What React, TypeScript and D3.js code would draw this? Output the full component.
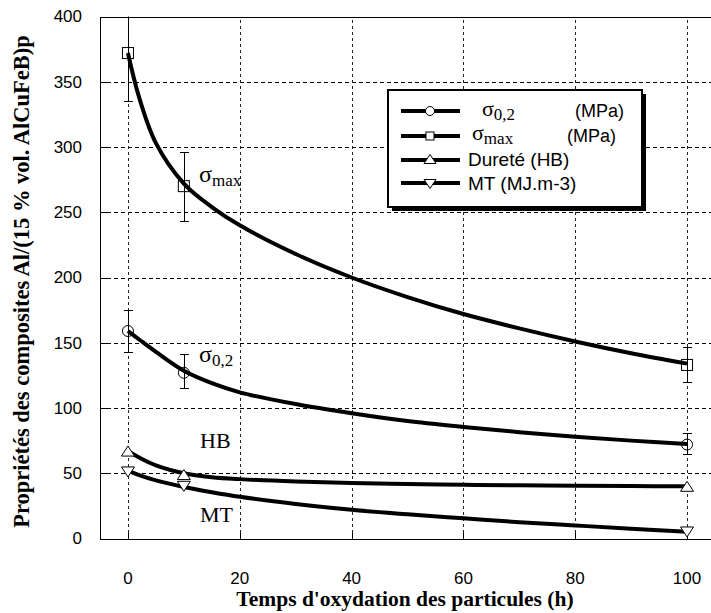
import React from "react";
import * as d3 from "d3";

// Measured points
const times = [0, 10, 100];
const sigmaMax = [372, 270, 133];
const sigmaMaxLo = [335, 243, 120];
const sigmaMaxHi = [409, 296, 147];
const sigma02 = [159, 127, 72];
const sigma02Lo = [143, 115, 65];
const sigma02Hi = [175, 141, 81];
const hardness = [67, 49, 40];
const mt = [51, 40, 5];

// Fitted curves
const fitX = [0, 2, 5, 10, 15, 20, 30, 40, 50, 60, 70, 80, 90, 100];
const fitSigmaMax = [372, 338, 303, 272, 254, 240, 218, 200, 185, 172, 161, 151, 142, 134];
const fitSigma02 = [159, 152.5, 143, 128.5, 119, 112, 103, 96, 90, 85.5, 81.5, 78, 75, 72.5];
const fitHardness = [67, 62, 56, 50, 47, 45.5, 43.7, 42.6, 41.8, 41.2, 40.8, 40.5, 40.2, 40];
const fitMT = [52, 48.5, 44.5, 39.5, 35.5, 32, 26.5, 22, 18.5, 15.5, 12.5, 10, 7.5, 5.2];

const xTicks = [0, 20, 40, 60, 80, 100];
const yTicks = [0, 50, 100, 150, 200, 250, 300, 350, 400];

const W = 711;
const H = 613;
const x = d3.scaleLinear().domain([-5, 105]).range([100, 715]);
const y = d3.scaleLinear().domain([0, 400]).range([538.5, 16.5]);
const px = (v: number) => Math.round(v) + 0.5;

const line = d3
  .line<[number, number]>()
  .x((d) => x(d[0]))
  .y((d) => y(d[1]))
  .curve(d3.curveCatmullRom.alpha(0.5));

const tri = (cx: number, cy: number, w: number, h: number, up: boolean) =>
  up
    ? `M${cx},${cy - h / 2}L${cx + w / 2},${cy + h / 2}L${cx - w / 2},${cy + h / 2}Z`
    : `M${cx},${cy + h / 2}L${cx + w / 2},${cy - h / 2}L${cx - w / 2},${cy - h / 2}Z`;

const serif = "'Liberation Serif', 'Times New Roman', serif";
const sans = "'Liberation Sans', Arial, sans-serif";

function ErrBar({ xv, lo, hi }: { xv: number; lo: number; hi: number }) {
  const cx = px(x(xv));
  return (
    <g stroke="#000" strokeWidth={1} shapeRendering="crispEdges">
      <line x1={cx} x2={cx} y1={y(lo)} y2={y(hi)} />
      <line x1={cx - 4.5} x2={cx + 4.5} y1={px(y(lo))} y2={px(y(lo))} />
      <line x1={cx - 4.5} x2={cx + 4.5} y1={px(y(hi))} y2={px(y(hi))} />
    </g>
  );
}

export default function App() {
  const zip = (a: number[], b: number[]) => a.map((v, i) => [v, b[i]] as [number, number]);
  const legendRows = [
    { kind: "circle", y: 111 },
    { kind: "square", y: 136 },
    { kind: "up", y: 160 },
    { kind: "down", y: 183 },
  ];
  return (
    <svg width={W} height={H} style={{ position: "absolute", left: 0, top: 0, background: "#fff" }}>
      <rect x={0} y={0} width={W} height={H} fill="#fff" />
      <defs>
        <clipPath id="plot">
          <rect x={100} y={y(400)} width={W - 100} height={y(0) - y(400)} />
        </clipPath>
      </defs>
      {/* grid */}
      <g shapeRendering="crispEdges">
        {yTicks
          .filter((t) => t > 0 && t < 400)
          .map((t) => (
            <line key={"gy" + t} x1={x(-5)} x2={W} y1={px(y(t))} y2={px(y(t))} stroke="#000" strokeWidth={1} strokeDasharray="4,3" />
          ))}
        {xTicks.map((t) => (
          <line key={"gx" + t} x1={px(x(t))} x2={px(x(t))} y1={y(0)} y2={y(400)} stroke="#222" strokeWidth={1} strokeDasharray="3,3" />
        ))}
        {/* axes */}
        <line x1={100.5} x2={100.5} y1={px(y(400))} y2={px(y(0))} stroke="#000" strokeWidth={1} />
        <line x1={100} x2={W} y1={px(y(0))} y2={px(y(0))} stroke="#000" strokeWidth={1} />
        <line x1={100} x2={W} y1={px(y(400))} y2={px(y(400))} stroke="#000" strokeWidth={1} />
        {yTicks.map((t) => (
          <line key={"tky" + t} x1={100} x2={108} y1={px(y(t))} y2={px(y(t))} stroke="#000" strokeWidth={1} />
        ))}
        {xTicks.map((t) => (
          <line key={"tkx" + t} x1={px(x(t))} x2={px(x(t))} y1={y(0)} y2={y(0) - 6} stroke="#000" strokeWidth={1} />
        ))}
      </g>
      {yTicks.map((t) => (
        <text key={"ty" + t} x={82} y={y(t)} dy="0.35em" textAnchor="end" fontFamily={sans} fontSize={17}>
          {t}
        </text>
      ))}
      {xTicks.map((t) => (
        <text key={"tx" + t} x={x(t)} y={578} dy="0.35em" textAnchor="middle" fontFamily={sans} fontSize={17}>
          {t}
        </text>
      ))}
      {/* axis titles */}
      <text x={405} y={606} textAnchor="middle" fontFamily={serif} fontWeight="bold" fontSize={21.5}>
        Temps d'oxydation des particules (h)
      </text>
      <text
        transform={`translate(21,${(y(0) + y(400)) / 2 + 4}) rotate(-90)`}
        dy="0.35em"
        textAnchor="middle"
        fontFamily={serif}
        fontWeight="bold"
        fontSize={22.5}
      >
        Propriétés des composites Al/(15 % vol. AlCuFeB)p
      </text>
      <g clipPath="url(#plot)">
        {/* curves */}
        {[fitSigmaMax, fitSigma02, fitHardness, fitMT].map((s, i) => (
          <path key={"c" + i} d={line(zip(fitX, s)) || ""} fill="none" stroke="#000" strokeWidth={4} />
        ))}
        {/* error bars */}
        {times.map((t, i) => (
          <ErrBar key={"em" + i} xv={t} lo={sigmaMaxLo[i]} hi={sigmaMaxHi[i]} />
        ))}
        {times.map((t, i) => (
          <ErrBar key={"e2" + i} xv={t} lo={sigma02Lo[i]} hi={sigma02Hi[i]} />
        ))}
        {/* markers */}
        {times.map((t, i) => (
          <rect key={"sq" + i} x={x(t) - 5.5} y={y(sigmaMax[i]) - 5.5} width={11} height={11} fill="none" stroke="#000" strokeWidth={1} />
        ))}
        {times.map((t, i) => (
          <circle key={"ci" + i} cx={x(t)} cy={y(sigma02[i])} r={5.5} fill="none" stroke="#000" strokeWidth={1} />
        ))}
        {times.map((t, i) => (
          <path key={"tu" + i} d={tri(x(t), y(hardness[i]), 13, 10, true)} fill="#fff" stroke="#000" strokeWidth={1} />
        ))}
        {times.map((t, i) => (
          <path key={"td" + i} d={tri(x(t), y(mt[i]), 13, 10, false)} fill="#fff" stroke="#000" strokeWidth={1} />
        ))}
      </g>
      {/* curve labels */}
      <text x={199} y={182} fontFamily={serif} fontSize={24}>
        σ<tspan fontSize={17} dy={4}>max</tspan>
      </text>
      <text x={199} y={362} fontFamily={serif} fontSize={24}>
        σ<tspan fontSize={17} dy={4}>0,2</tspan>
      </text>
      <text x={200} y={448} fontFamily={serif} fontSize={22}>
        HB
      </text>
      <text x={200} y={522} fontFamily={serif} fontSize={22}>
        MT
      </text>
      {/* legend */}
      <rect x={392} y={94} width={254} height={117} fill="#000" />
      <rect x={388} y={90} width={254} height={117} fill="#fff" stroke="#000" strokeWidth={2} />
      {legendRows.map((r, i) => (
        <g key={"lg" + i}>
          <line x1={401} x2={460} y1={r.y} y2={r.y} stroke="#000" strokeWidth={4} />
          {r.kind === "circle" && <circle cx={430} cy={r.y} r={4.5} fill="#fff" stroke="#000" strokeWidth={1} />}
          {r.kind === "square" && <rect x={426} y={r.y - 4} width={8} height={8} fill="#fff" stroke="#000" strokeWidth={1} />}
          {r.kind === "up" && <path d={tri(430, r.y - 1, 12, 9, true)} fill="#fff" stroke="#000" strokeWidth={1} />}
          {r.kind === "down" && <path d={tri(430, r.y + 1, 12, 9, false)} fill="#fff" stroke="#000" strokeWidth={1} />}
        </g>
      ))}
      <text x={482} y={116} fontFamily={serif} fontSize={22}>
        σ<tspan fontSize={17} dy={4}>0,2</tspan>
      </text>
      <text x={575} y={117} fontFamily={sans} fontSize={18}>
        (MPa)
      </text>
      <text x={472} y={140} fontFamily={serif} fontSize={22}>
        σ<tspan fontSize={17} dy={4}>max</tspan>
      </text>
      <text x={567} y={142} fontFamily={sans} fontSize={18}>
        (MPa)
      </text>
      <text x={468} y={166} fontFamily={sans} fontSize={19}>
        Dureté (HB)
      </text>
      <text x={468} y={190} fontFamily={sans} fontSize={19}>
        MT (MJ.m-3)
      </text>
    </svg>
  );
}
